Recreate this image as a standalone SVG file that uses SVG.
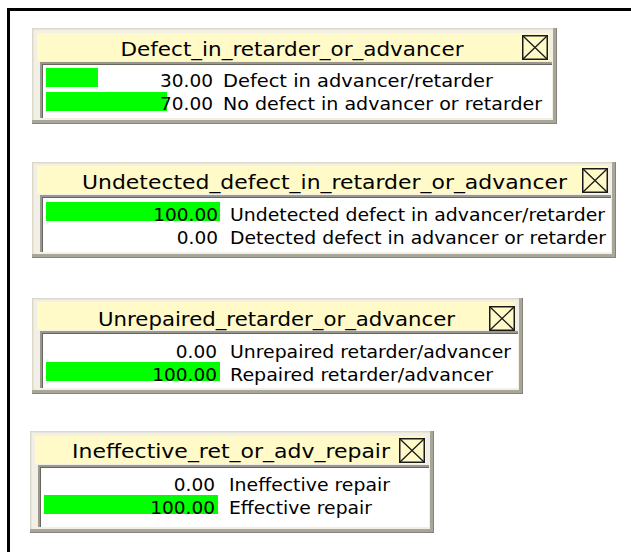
<svg xmlns="http://www.w3.org/2000/svg" width="631" height="552" viewBox="0 0 631 552">
<style>
.bg{fill:#ffffff}
.blk{fill:#000000}
.frame{fill:#f2f0e6}
.hi{fill:#dcd9c8}
.sh{fill:#a8a698}
.sh2{fill:#85837a}
.ttlbar{fill:#fffac8}
.panel{fill:#ffffff}
.sunk{fill:#9a988c}
.sunk2{fill:#66655e}
.bar{fill:#00ff00}
text{font-family:"DejaVu Sans","Liberation Sans",sans-serif;fill:#000000}
.ttl{font-size:19px;text-anchor:middle}
.num{font-size:18.5px;text-anchor:end}
.lbl{font-size:18.5px;text-anchor:start}
.ico{fill:#fffac8;stroke:#1a1a1a;stroke-width:1.5}
.icox{stroke:#1a1a1a;stroke-width:1.3;fill:none}
</style>
<defs>
<symbol id="close" viewBox="0 0 26 25" width="26" height="25">
<rect class="ico" x="0.75" y="0.75" width="24.5" height="23.5"/>
<path class="icox" d="M1 1 L25 24 M25 1 L1 24"/>
</symbol>
</defs>
<rect class="bg" x="0" y="0" width="631" height="552"/>
<rect class="blk" x="7" y="8" width="624" height="3"/>
<rect class="blk" x="7" y="8" width="3" height="544"/>
<g id="connectors"></g>

<g id="node-defect">
<rect class="frame" x="32" y="28" width="525" height="96"/>
<rect class="hi" x="32" y="28" width="525" height="1.5"/>
<rect class="hi" x="32" y="28" width="1.5" height="96"/>
<rect class="sh" x="553" y="28" width="4" height="96"/>
<rect class="sh" x="32" y="120" width="525" height="4"/>
<rect class="sh2" x="556" y="28" width="1" height="96"/>
<rect class="sh2" x="32" y="123" width="525" height="1"/>
<rect class="ttlbar" x="37" y="33" width="512" height="28"/>
<rect class="panel" x="40" y="62" width="512" height="56"/>
<rect class="sunk" x="40" y="62" width="512" height="2"/>
<rect class="sunk" x="40" y="62" width="2" height="56"/>
<rect class="sunk2" x="42" y="64" width="510" height="1"/>
<rect class="sunk2" x="42" y="64" width="1" height="54"/>
<use href="#close" x="522" y="35"/>
<text class="ttl" x="292" y="56" textLength="343" lengthAdjust="spacingAndGlyphs">Defect_in_retarder_or_advancer</text>
<rect class="bar" x="46" y="68" width="52" height="19"/>
<rect class="bar" x="46" y="92" width="121" height="19"/>
<text class="num" x="213" y="87">30.00</text>
<text class="lbl" x="223" y="87" textLength="270" lengthAdjust="spacingAndGlyphs">Defect in advancer/retarder</text>
<text class="num" x="213" y="110">70.00</text>
<text class="lbl" x="223" y="110" textLength="319" lengthAdjust="spacingAndGlyphs">No defect in advancer or retarder</text>
</g>

<g id="node-undetected">
<rect class="frame" x="32" y="162" width="584" height="96"/>
<rect class="hi" x="32" y="162" width="584" height="1.5"/>
<rect class="hi" x="32" y="162" width="1.5" height="96"/>
<rect class="sh" x="612" y="162" width="4" height="96"/>
<rect class="sh" x="32" y="254" width="584" height="4"/>
<rect class="sh2" x="615" y="162" width="1" height="96"/>
<rect class="sh2" x="32" y="257" width="584" height="1"/>
<rect class="ttlbar" x="37" y="166" width="571" height="28"/>
<rect class="panel" x="40" y="195" width="571" height="57"/>
<rect class="sunk" x="40" y="195" width="571" height="2"/>
<rect class="sunk" x="40" y="195" width="2" height="57"/>
<rect class="sunk2" x="42" y="197" width="569" height="1"/>
<rect class="sunk2" x="42" y="197" width="1" height="55"/>
<use href="#close" x="582" y="168"/>
<text class="ttl" x="324.5" y="189" textLength="485" lengthAdjust="spacingAndGlyphs">Undetected_defect_in_retarder_or_advancer</text>
<rect class="bar" x="46" y="202" width="174" height="19"/>
<text class="num" x="218" y="221">100.00</text>
<text class="lbl" x="230" y="221" textLength="375" lengthAdjust="spacingAndGlyphs">Undetected defect in advancer/retarder</text>
<text class="num" x="218" y="244">0.00</text>
<text class="lbl" x="230" y="244" textLength="376" lengthAdjust="spacingAndGlyphs">Detected defect in advancer or retarder</text>
</g>

<g id="node-unrepaired">
<rect class="frame" x="32" y="298" width="491" height="96"/>
<rect class="hi" x="32" y="298" width="491" height="1.5"/>
<rect class="hi" x="32" y="298" width="1.5" height="96"/>
<rect class="sh" x="519" y="298" width="4" height="96"/>
<rect class="sh" x="32" y="390" width="491" height="4"/>
<rect class="sh2" x="522" y="298" width="1" height="96"/>
<rect class="sh2" x="32" y="393" width="491" height="1"/>
<rect class="ttlbar" x="37" y="302" width="478" height="28"/>
<rect class="panel" x="40" y="331" width="478" height="57"/>
<rect class="sunk" x="40" y="331" width="478" height="2"/>
<rect class="sunk" x="40" y="331" width="2" height="57"/>
<rect class="sunk2" x="42" y="333" width="476" height="1"/>
<rect class="sunk2" x="42" y="333" width="1" height="55"/>
<use href="#close" x="489" y="306"/>
<text class="ttl" x="276.5" y="326" textLength="357" lengthAdjust="spacingAndGlyphs">Unrepaired_retarder_or_advancer</text>
<rect class="bar" x="46" y="362" width="174" height="19"/>
<text class="num" x="217" y="358">0.00</text>
<text class="lbl" x="230" y="358" textLength="281" lengthAdjust="spacingAndGlyphs">Unrepaired retarder/advancer</text>
<text class="num" x="217" y="381">100.00</text>
<text class="lbl" x="230" y="381" textLength="263" lengthAdjust="spacingAndGlyphs">Repaired retarder/advancer</text>
</g>

<g id="node-ineffective">
<rect class="frame" x="30" y="431" width="404" height="102"/>
<rect class="hi" x="30" y="431" width="404" height="1.5"/>
<rect class="hi" x="30" y="431" width="1.5" height="102"/>
<rect class="sh" x="430" y="431" width="4" height="102"/>
<rect class="sh" x="30" y="529" width="404" height="4"/>
<rect class="sh2" x="433" y="431" width="1" height="102"/>
<rect class="sh2" x="30" y="532" width="404" height="1"/>
<rect class="ttlbar" x="35" y="436" width="391" height="28"/>
<rect class="panel" x="38" y="465" width="391" height="62"/>
<rect class="sunk" x="38" y="465" width="391" height="2"/>
<rect class="sunk" x="38" y="465" width="2" height="62"/>
<rect class="sunk2" x="40" y="467" width="389" height="1"/>
<rect class="sunk2" x="40" y="467" width="1" height="60"/>
<use href="#close" x="399" y="438"/>
<text class="ttl" x="231" y="458" textLength="318" lengthAdjust="spacingAndGlyphs">Ineffective_ret_or_adv_repair</text>
<rect class="bar" x="44" y="495" width="174" height="19"/>
<text class="num" x="215" y="491">0.00</text>
<text class="lbl" x="229" y="491" textLength="161" lengthAdjust="spacingAndGlyphs">Ineffective repair</text>
<text class="num" x="215" y="514">100.00</text>
<text class="lbl" x="229" y="514" textLength="143" lengthAdjust="spacingAndGlyphs">Effective repair</text>
</g>
</svg>
